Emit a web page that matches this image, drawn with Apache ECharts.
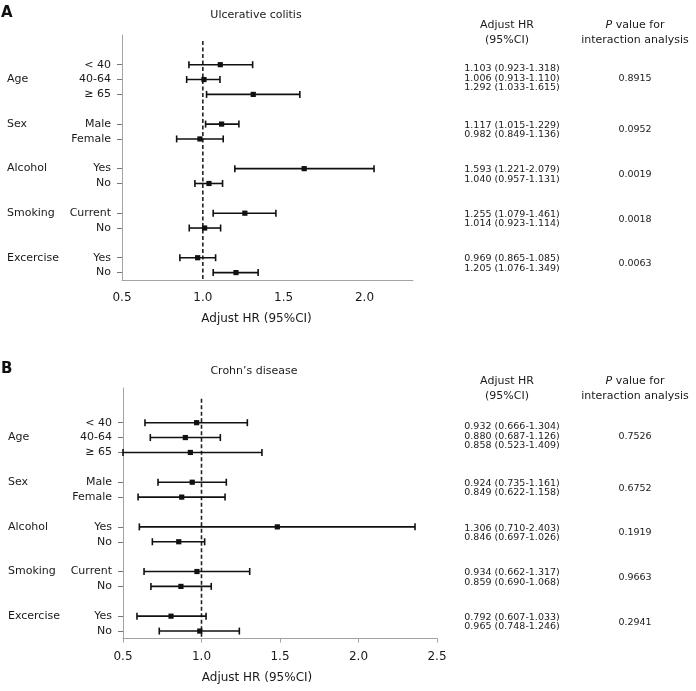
<!DOCTYPE html>
<html><head><meta charset="utf-8">
<script src="https://cdn.jsdelivr.net/npm/echarts@6/dist/echarts.min.js"></script>
<style>html,body{margin:0;padding:0;background:#fff;}#c{width:696px;height:691px;}</style>
</head><body><div id="c"></div>
<script>
// ---- rows ----
const groupNames = ['Age', 'Sex', 'Alcohol', 'Smoking', 'Excercise'];
const subLabels = [['< 40', '40-64', '≥ 65'], ['Male', 'Female'], ['Yes', 'No'], ['Current', 'No'], ['Yes', 'No']];
const groupLabelRow = [1, 0, 0, 0, 0]; // which sub-row carries the group name

// ---- Panel A: Ulcerative colitis (marks) ----
const ucEst  = [1.108, 1.007, 1.312, 1.116, 0.982, 1.627, 1.038, 1.260, 1.011, 0.968, 1.205];
const ucLow  = [0.914, 0.900, 1.023, 1.017, 0.838, 1.198, 0.951, 1.064, 0.916, 0.858, 1.064];
const ucHigh = [1.308, 1.106, 1.600, 1.223, 1.126, 2.059, 1.122, 1.452, 1.110, 1.079, 1.342];
const ucHRText = [
  ['1.103 (0.923-1.318)', '1.006 (0.913-1.110)', '1.292 (1.033-1.615)'],
  ['1.117 (1.015-1.229)', '0.982 (0.849-1.136)'],
  ['1.593 (1.221-2.079)', '1.040 (0.957-1.131)'],
  ['1.255 (1.079-1.461)', '1.014 (0.923-1.114)'],
  ['0.969 (0.865-1.085)', '1.205 (1.076-1.349)']
];
const ucP = ['0.8915', '0.0952', '0.0019', '0.0018', '0.0063'];

// ---- Panel B: Crohn's disease (marks) ----
const cdEst  = [0.969, 0.897, 0.929, 0.941, 0.874, 1.483, 0.855, 0.971, 0.869, 0.806, 0.989];
const cdLow  = [0.640, 0.674, 0.500, 0.723, 0.596, 0.604, 0.687, 0.634, 0.678, 0.589, 0.731];
const cdHigh = [1.292, 1.120, 1.385, 1.158, 1.150, 2.360, 1.020, 1.307, 1.062, 1.029, 1.241];
const cdHRText = [
  ['0.932 (0.666-1.304)', '0.880 (0.687-1.126)', '0.858 (0.523-1.409)'],
  ['0.924 (0.735-1.161)', '0.849 (0.622-1.158)'],
  ['1.306 (0.710-2.403)', '0.846 (0.697-1.026)'],
  ['0.934 (0.662-1.317)', '0.859 (0.690-1.068)'],
  ['0.792 (0.607-1.033)', '0.965 (0.748-1.246)']
];
const cdP = ['0.7526', '0.6752', '0.1919', '0.9663', '0.2941'];

// ---- axis ticks ----
const xTicksA = [0.5, 1.0, 1.5, 2.0];
const xTicksB = [0.5, 1.0, 1.5, 2.0, 2.5];
const refValue = 1.0;

const FONT = 'DejaVu Sans';
const TXT = '#1a1a1a';
const AXC = '#a3a3a3';

// build row positions (top to bottom, blank row between groups)
const nRows = subLabels.reduce((s, g) => s + g.length, 0) + subLabels.length - 1;
let cur = nRows - 1;
const rowY = [], rowText = {}, groupCenter = [];
subLabels.forEach((subs, gi) => {
  const ys = [];
  subs.forEach((s, si) => {
    rowY.push(cur); ys.push(cur);
    rowText[cur] = { g: si === groupLabelRow[gi] ? groupNames[gi] : ' ', s: s };
    cur--;
  });
  groupCenter.push((ys[0] + ys[ys.length - 1]) / 2);
  cur--;
});

function ciData(est, low, high) {
  return rowY.map((y, i) => [y, low[i], est[i], high[i]]);
}

function renderCI(params, api) {
  const y = api.value(0);
  const pL = api.coord([api.value(1), y]);
  const pM = api.coord([api.value(2), y]);
  const pH = api.coord([api.value(3), y]);
  const cap = 3.5, sq = 2.6;
  const st = { stroke: '#111', lineWidth: 1.6 };
  return {
    type: 'group', children: [
      { type: 'line', shape: { x1: pL[0], y1: pL[1], x2: pH[0], y2: pH[1] }, style: st },
      { type: 'line', shape: { x1: pL[0], y1: pL[1] - cap, x2: pL[0], y2: pL[1] + cap }, style: st },
      { type: 'line', shape: { x1: pH[0], y1: pH[1] - cap, x2: pH[0], y2: pH[1] + cap }, style: st },
      { type: 'rect', shape: { x: pM[0] - sq, y: pM[1] - sq, width: 2 * sq, height: 2 * sq }, style: { fill: '#111' } }
    ]
  };
}

function yAxisCfg(gi, max) {
  return {
    type: 'value', gridIndex: gi, min: -0.5, max: max,
    axisLine: { show: true, lineStyle: { color: AXC, width: 1 } },
    axisTick: { show: true, length: 5, customValues: rowY, lineStyle: { color: '#777' } },
    splitLine: { show: false },
    axisLabel: {
      customValues: rowY, margin: 11,
      formatter: v => { const r = rowText[Math.round(v)]; return r ? '{g|' + r.g + '}{s|' + r.s + '}' : ''; },
      rich: {
        g: { width: 58, align: 'left', fontFamily: FONT, fontSize: 11, color: TXT },
        s: { width: 46, align: 'right', fontFamily: FONT, fontSize: 11, color: TXT }
      }
    }
  };
}

function xAxisCfg(gi, max, ticks, showTick, padR) {
  return {
    type: 'value', gridIndex: gi, min: 0.5, max: max, interval: 0.5,
    axisLine: { show: true, onZero: false, lineStyle: { color: AXC, width: 1 } },
    axisTick: { show: showTick, length: 4, lineStyle: { color: AXC } },
    splitLine: { show: false },
    axisLabel: {
      margin: 12, fontFamily: FONT, fontSize: 12, color: TXT,
      formatter: v => ticks.some(t => Math.abs(t - v) < 1e-6) ? v.toFixed(1) : ''
    },
    name: 'Adjust HR (95%CI)', nameLocation: 'middle', nameGap: 33,
    nameTextStyle: { fontFamily: FONT, fontSize: 12, color: TXT, padding: [0, padR, 0, 0] }
  };
}

const chart = echarts.init(document.getElementById('c'));
const maxYA = 16, maxYB = 16.33, refTop = 15.6;

chart.setOption({
  animation: false,
  grid: [
    { left: 122, top: 35, width: 291, height: 245 },
    { left: 123, top: 388, width: 314, height: 250.5 }
  ],
  xAxis: [xAxisCfg(0, 2.3, xTicksA, false, 22), xAxisCfg(1, 2.5, xTicksB, true, 46)],
  yAxis: [yAxisCfg(0, maxYA), yAxisCfg(1, maxYB)],
  series: [
    { type: 'line', xAxisIndex: 0, yAxisIndex: 0, data: [[refValue, refTop], [refValue, -0.5]], symbol: 'none',
      lineStyle: { type: [4, 2.5], width: 1.6, color: '#222' }, silent: true },
    { type: 'line', xAxisIndex: 1, yAxisIndex: 1, data: [[refValue, refTop], [refValue, -0.5]], symbol: 'none',
      lineStyle: { type: [4, 2.5], width: 1.6, color: '#222' }, silent: true },
    { type: 'custom', xAxisIndex: 0, yAxisIndex: 0, renderItem: renderCI, encode: { x: [1, 2, 3], y: 0 },
      data: ciData(ucEst, ucLow, ucHigh), z: 5 },
    { type: 'custom', xAxisIndex: 1, yAxisIndex: 1, renderItem: renderCI, encode: { x: [1, 2, 3], y: 0 },
      data: ciData(cdEst, cdLow, cdHigh), z: 5 }
  ]
});

// text annotations
const graphics = [];
function addText(x, y, text, opts) {
  graphics.push({ type: 'text', x: x, y: y, silent: true, style: Object.assign({
    text: text, fontFamily: FONT, fontSize: 11, fill: TXT, align: 'center', verticalAlign: 'middle'
  }, opts || {}) });
}
function panelText(gi, letter, title, titleX, topY, hrText, pVals) {
  addText(1, topY - 2, letter, { fontSize: 15, fontWeight: 'bold', align: 'left', fill: '#111' });
  addText(titleX, topY, title, { fontSize: 11 });
  addText(507, topY + 18, 'Adjust HR\n(95%CI)', { fontSize: 11, lineHeight: 15 });
  addText(635, topY + 18, '{i|P} value for\ninteraction analysis', { fontSize: 11, lineHeight: 15,
    rich: { i: { fontStyle: 'italic', fontFamily: FONT, fontSize: 11, fill: TXT } } });
  hrText.forEach((lines, k) => {
    const py = chart.convertToPixel({ gridIndex: gi }, [1, groupCenter[k]])[1] - 1.5;
    addText(512, py, lines.join('\n'), { fontSize: 9.5, lineHeight: 9.5 });
    addText(635, py, pVals[k], { fontSize: 9.5 });
  });
}
panelText(0, 'A', 'Ulcerative colitis', 256, 15, ucHRText, ucP);
panelText(1, 'B', 'Crohn\u2019s disease', 254, 371, cdHRText, cdP);
chart.setOption({ graphic: graphics });
</script>
</body></html>
